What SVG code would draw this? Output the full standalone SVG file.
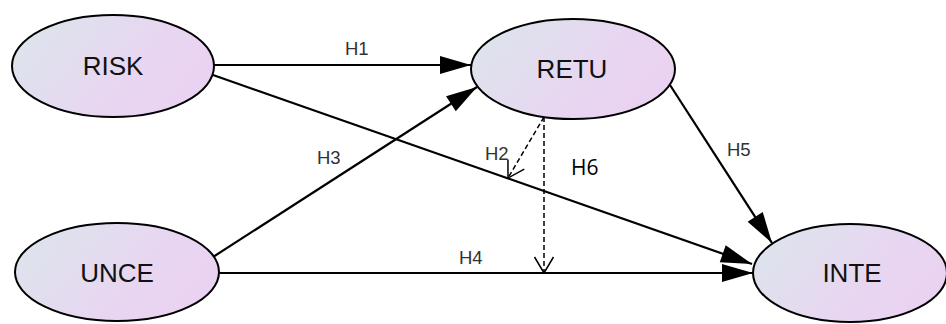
<svg xmlns="http://www.w3.org/2000/svg" width="946" height="324" viewBox="0 0 946 324">
<defs>
<linearGradient id="g" x1="0" y1="0.3" x2="1" y2="0.7">
<stop offset="0" stop-color="#dde4ec"/>
<stop offset="0.6" stop-color="#e8d6f1"/>
<stop offset="1" stop-color="#ead2f2"/>
</linearGradient>
<marker id="ah" markerUnits="userSpaceOnUse" markerWidth="32" markerHeight="18" refX="31" refY="9" orient="auto" overflow="visible">
<path d="M0,0 L31,9 L0,18 Z" fill="#000"/>
</marker>
<marker id="oh" markerUnits="userSpaceOnUse" markerWidth="18" markerHeight="20" refX="16" refY="9.5" orient="auto" overflow="visible">
<path d="M0,0 L16,9.5 L0,19" fill="none" stroke="#000" stroke-width="1.5"/>
</marker>
</defs>
<style>
.node ellipse{fill:url(#g);stroke:#000;stroke-width:2}
.node text{font-family:"Liberation Sans",Arial,sans-serif;font-size:26px;fill:#111;text-anchor:middle}
.c{stroke:#000;stroke-width:2.2;fill:none;marker-end:url(#ah)}
.d{stroke:#000;stroke-width:1.5;fill:none;stroke-dasharray:5,3;marker-end:url(#oh)}
.lbl{font-family:"Liberation Sans",Arial,sans-serif;font-size:18.5px;fill:#333}
.h6{font-family:"Open Sans","Liberation Sans",sans-serif;font-size:21px;fill:#000}
</style>
<g id="connectors">
<line class="c" x1="214" y1="65" x2="471" y2="65"/>
<line class="c" x1="213" y1="75" x2="752" y2="264"/>
<line class="c" x1="213" y1="257" x2="477" y2="87"/>
<line class="c" x1="219" y1="273" x2="753" y2="273"/>
<line class="c" x1="670" y1="85" x2="772" y2="243"/>
<line class="d" x1="544" y1="117" x2="508" y2="178"/>
<line class="d" x1="544" y1="117" x2="544" y2="273"/>
<text class="lbl" x="345" y="55">H1</text>
<text class="lbl" x="485" y="160">H2</text>
<text class="lbl" x="317" y="164">H3</text>
<text class="lbl" x="459" y="264">H4</text>
<text class="lbl" x="727" y="156">H5</text>
<text class="h6" x="571" y="175">H6</text>
</g>
<g id="RISK" class="node"><ellipse cx="113" cy="66" rx="101" ry="51"/><text x="113" y="75">RISK</text></g>
<g id="RETU" class="node"><ellipse cx="573" cy="69" rx="102" ry="50"/><text x="572" y="78">RETU</text></g>
<g id="UNCE" class="node"><ellipse cx="117" cy="272" rx="102" ry="49"/><text x="117" y="282">UNCE</text></g>
<g id="INTE" class="node"><ellipse cx="850" cy="273" rx="97" ry="49"/><text x="852" y="282">INTE</text></g>
</svg>
